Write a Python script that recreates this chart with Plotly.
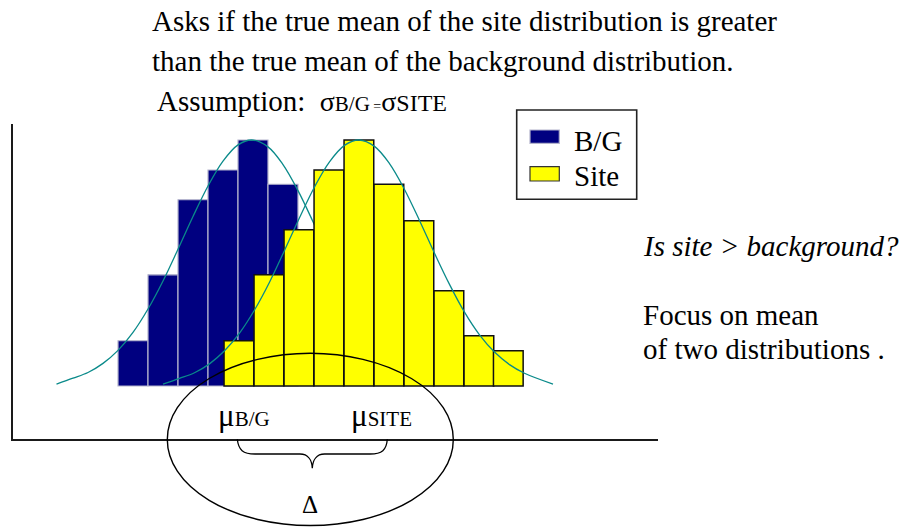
import plotly.graph_objects as go

# ---------------- data ----------------
bg_centers = [4, 5, 6, 7, 8, 9]
bg_counts = [1.84, 4.52, 7.57, 8.78, 10.0, 8.2]

site_centers = [7.53, 8.53, 9.53, 10.53, 11.53, 12.53, 13.53, 14.53, 15.53, 16.51]
site_counts = [1.84, 4.52, 6.35, 8.78, 10.0, 8.2, 6.72, 3.87, 2.04, 1.43]

bg_curve_x = [1.45, 2.0, 2.5, 3.0, 3.5, 4.0, 4.5, 5.0, 5.5, 6.0, 6.5, 7.0, 7.5, 7.96,
              8.5, 9.0, 9.5, 10.0, 10.5, 11.0, 11.5, 12.0, 12.5, 13.0, 13.5, 14.45]
bg_curve_y = [0.08, 0.32, 0.55, 0.92, 1.45, 2.18, 3.13, 4.27, 5.56, 6.89, 8.13, 9.14, 9.80, 10.0,
              9.72, 9.00, 7.94, 6.68, 5.35, 4.08, 2.96, 2.05, 1.35, 0.85, 0.51, 0.08]

site_curve_x = [5.0, 5.55, 6.05, 6.55, 7.05, 7.55, 8.05, 8.55, 9.05, 9.55, 10.05, 10.55, 11.05, 11.53,
                12.05, 12.55, 13.05, 13.55, 14.05, 14.55, 15.05, 15.55, 16.05, 16.55, 17.05, 18.0]
site_curve_y = [0.08, 0.31, 0.54, 0.90, 1.43, 2.15, 3.09, 4.22, 5.51, 6.84, 8.09, 9.11, 9.78, 10.0,
                9.74, 9.04, 7.99, 6.73, 5.40, 4.13, 3.00, 2.08, 1.38, 0.87, 0.52, 0.08]

legend_labels = ["B/G", "Site"]

# ---------------- styling / layout constants ----------------
FONT = "Liberation Serif"
NAVY = "#000080"
YELLOW = "#FFFF00"
TEAL = "#0A8A8A"
W, H = 907, 527
L, T, PW, PH = 13, 124, 645, 315
XR = [0, 21.5]
YR = [-2.154, 10.65]


def fx(p):
    return (p - L) / PW


def fy(p):
    return (T + PH - p) / PH


fig = go.Figure()

# background distribution (bottom layer)
fig.add_trace(go.Bar(x=bg_centers, y=bg_counts, width=1.0,
                     marker=dict(color=NAVY, line=dict(color="#B4B4CC", width=1.2)),
                     showlegend=False, hoverinfo="skip"))
fig.add_trace(go.Scatter(x=bg_curve_x, y=bg_curve_y, mode="lines",
                         line=dict(color=TEAL, width=1.3, shape="spline"),
                         showlegend=False, hoverinfo="skip"))
# site distribution (overlaid subplot -> drawn on top)
fig.add_trace(go.Bar(x=site_centers, y=site_counts, width=0.99,
                     marker=dict(color=YELLOW, line=dict(color="#111111", width=1.5)),
                     xaxis="x2", yaxis="y2", showlegend=False, hoverinfo="skip"))
fig.add_trace(go.Scatter(x=site_curve_x, y=site_curve_y, mode="lines",
                         line=dict(color=TEAL, width=1.3, shape="spline"),
                         xaxis="x2", yaxis="y2", showlegend=False, hoverinfo="skip"))

shapes = []
# ellipse around the means
shapes.append(dict(type="circle", xref="paper", yref="paper",
                   x0=fx(167.3), x1=fx(453.3), y0=fy(525.5), y1=fy(353.3),
                   line=dict(color="black", width=1.4)))
# brace between the means
bp = [(237.3, 439.3), (238.5, 450), (243, 454), (255, 454), (300, 454),
      (308, 454), (312, 460), (312.3, 468.3), (312.6, 460), (316.6, 454), (324.6, 454),
      (370, 454), (382, 454), (386.5, 450), (387.3, 439.3)]
P = [(fx(a), fy(b)) for a, b in bp]
path = ("M {0[0]},{0[1]} C {1[0]},{1[1]} {2[0]},{2[1]} {3[0]},{3[1]} L {4[0]},{4[1]} "
        "C {5[0]},{5[1]} {6[0]},{6[1]} {7[0]},{7[1]} C {8[0]},{8[1]} {9[0]},{9[1]} {10[0]},{10[1]} "
        "L {11[0]},{11[1]} C {12[0]},{12[1]} {13[0]},{13[1]} {14[0]},{14[1]}").format(*P)
shapes.append(dict(type="path", xref="paper", yref="paper", path=path,
                   line=dict(color="black", width=1.3)))
# legend box and swatches
shapes.append(dict(type="rect", xref="paper", yref="paper",
                   x0=fx(516.7), x1=fx(636.7), y0=fy(199.3), y1=fy(110),
                   line=dict(color="#222222", width=1.6), fillcolor="white"))
shapes.append(dict(type="rect", xref="paper", yref="paper",
                   x0=fx(530), x1=fx(559.3), y0=fy(143.3), y1=fy(130),
                   line=dict(color="#B4B4CC", width=1.2), fillcolor=NAVY))
shapes.append(dict(type="rect", xref="paper", yref="paper",
                   x0=fx(530), x1=fx(559.3), y0=fy(181), y1=fy(166.7),
                   line=dict(color="#333333", width=1.2), fillcolor=YELLOW))

ann = []


def text(s, x, y, size, xanchor="left", italic=False):
    ann.append(dict(text=s, xref="paper", yref="paper", x=fx(x), y=fy(y),
                    xanchor=xanchor, yanchor="middle", showarrow=False,
                    font=dict(family=FONT, size=size, color="black",
                              style="italic" if italic else "normal")))


text("Asks if the true mean of the site distribution is greater", 150, 21.2, 29)
text("than the true mean of the background distribution.", 150, 60.5, 29)
text("Assumption:  <span style='font-size:28px'>σ</span><span style='font-size:21px'>B/G</span>"
     "<span style='font-size:14px'> =</span><span style='font-size:28px'>σ</span>"
     "<span style='font-size:24px'>SITE</span>", 155, 100.5, 29)
text(legend_labels[0], 572, 140.5, 29)
text(legend_labels[1], 572, 175.5, 29)
text("Is site &gt; background?", 641, 245.5, 29, italic=True)
text("Focus on mean", 641, 314.5, 29)
text("of two distributions .", 641, 348.5, 29)
text("μ<span style='font-size:21px'>B/G</span>", 216, 415.5, 31)
text("μ<span style='font-size:21px'>SITE</span>", 349, 415.5, 31)
text("Δ", 309.5, 504.8, 25, xanchor="center")

axis_common = dict(showgrid=False, zeroline=False, ticks="", showticklabels=False, fixedrange=True)
fig.update_layout(
    width=W, height=H,
    margin=dict(l=L, r=W - L - PW, t=T, b=H - T - PH, pad=0),
    paper_bgcolor="white", plot_bgcolor="white",
    barmode="overlay", bargap=0,
    xaxis=dict(range=XR, showline=True, linecolor="#1a1a1a", linewidth=1.6, **axis_common),
    yaxis=dict(range=YR, showline=True, linecolor="#1a1a1a", linewidth=1.6, **axis_common),
    xaxis2=dict(range=XR, overlaying="x", visible=False, **axis_common),
    yaxis2=dict(range=YR, overlaying="y", visible=False, **axis_common),
    shapes=shapes, annotations=ann,
    showlegend=False,
)

fig.write_html("out.html", config={"staticPlot": True},
               post_script="document.body.style.margin='0';document.body.style.padding='0';")
